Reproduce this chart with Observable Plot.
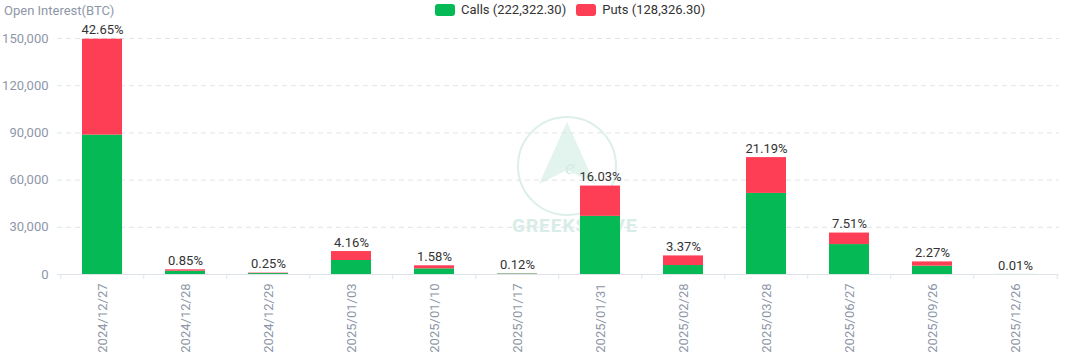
<!DOCTYPE html>
<html>
<head>
<meta charset="utf-8">
<script src="https://cdn.jsdelivr.net/npm/d3@7"></script>
<script src="https://cdn.jsdelivr.net/npm/@observablehq/plot@0.6"></script>
<style>
  html, body { margin: 0; padding: 0; background: #fff; }
  #wrap { position: relative; width: 1073px; height: 355px; font-family: Roboto, "Noto Sans", sans-serif; }
  #ytitle { position: absolute; left: 4px; top: 3px; font-size: 13px; color: #8e97a8; }
  #legend { position: absolute; top: 2px; left: 435px; display: flex; align-items: center; font-size: 13px; color: #333; }
  .sw { width: 20px; height: 12px; border-radius: 3px; display: inline-block; margin-right: 6px; }
  .item { display: flex; align-items: center; margin-right: 10px; }
  #wm { position: absolute; left: 512px; top: 214px; font-size: 19px; font-weight: bold; color: #cfe9e2; letter-spacing: 1px; opacity: 0.8; }
  #wmlogo { position: absolute; left: 515px; top: 114px; }
</style>
</head>
<body>
<div id="wrap">
  <svg id="wmlogo" width="104" height="104" viewBox="0 0 104 104">
    <circle cx="52" cy="52" r="49" fill="none" stroke="#dcefe9" stroke-width="2"/>
    <path d="M52 8 L80 70 L52 56 L24 70 Z" fill="#e3f3ee"/>
    <text x="50" y="60" font-size="22" font-style="italic" fill="#d3ebe4" font-family="serif">e</text>
  </svg>
  <div id="wm">GREEKS.LIVE</div>
  <div id="ytitle">Open Interest(BTC)</div>
  <div id="legend"></div>
</div>
<script>
const expiries = ["2024/12/27","2024/12/28","2024/12/29","2025/01/03","2025/01/10","2025/01/17","2025/01/31","2025/02/28","2025/03/28","2025/06/27","2025/09/26","2025/12/26"];
const calls = [88600, 2100, 600, 8900, 3600, 300, 36960, 5700, 51540, 19020, 5300, 25];
const puts  = [60950, 880, 277, 5690, 1940, 121, 19250, 6117, 22760, 7314, 2700, 10];
const shares = ["42.65%","0.85%","0.25%","4.16%","1.58%","0.12%","16.03%","3.37%","21.19%","7.51%","2.27%","0.01%"];
const yTicks = [0, 30000, 60000, 90000, 120000, 150000];
const seriesNames = ["Calls", "Puts"];
const seriesTotals = ["222,322.30", "128,326.30"];
const colors = ["#05b954", "#fe3e54"];

const rows = [];
expiries.forEach((d, i) => {
  rows.push({expiry: d, type: "Calls", value: calls[i]});
  rows.push({expiry: d, type: "Puts", value: puts[i]});
});
const totals = expiries.map((d, i) => ({expiry: d, total: calls[i] + puts[i], label: shares[i]}));

const W = 1073, H = 355, mL = 57, mR = 14, mT = 38, mB = 81;
const bw = (W - mL - mR) / expiries.length;

const chart = Plot.plot({
  width: W, height: H,
  marginLeft: mL, marginRight: mR, marginTop: mT, marginBottom: mB,
  style: {fontFamily: "Roboto, 'Noto Sans', sans-serif", fontSize: "13px", background: "transparent"},
  x: {domain: expiries, paddingInner: 0.52, paddingOuter: 0.26, align: 0.5, label: null, axis: null},
  y: {domain: [0, 150000], ticks: yTicks, label: null, axis: null},
  color: {domain: seriesNames, range: colors},
  marks: [
    Plot.gridY(yTicks.filter(t => t > 0), {stroke: "#dfe3ea", strokeOpacity: 1, strokeDasharray: "5,4"}),
    Plot.axisY({ticks: yTicks, tickSize: 0, tickPadding: 9, tickFormat: d3.format(","), fill: "#8e97a8", fontSize: 13}),
    Plot.barY(rows, {x: "expiry", y: "value", fill: "type", order: seriesNames}),
    Plot.ruleY([0], {stroke: "#dfe3ea"}),
    Plot.ruleX(expiries, {x: d => d, y1: 0, y2: 0, dx: -bw / 2, stroke: "#dfe3ea", insetBottom: -5}),
    Plot.ruleX([expiries[expiries.length - 1]], {x: d => d, y1: 0, y2: 0, dx: bw / 2, stroke: "#dfe3ea", insetBottom: -5}),
    Plot.text(totals, {x: "expiry", y: "total", text: "label", dy: -9, fill: "#333", fontSize: 13}),
    Plot.axisX({tickSize: 0, tickPadding: 9, tickRotate: -90, fill: "#8e97a8", fontSize: 13})
  ]
});
document.getElementById("wrap").appendChild(chart);
chart.style.position = "absolute";
chart.style.left = "0px";
chart.style.top = "0px";

const lg = document.getElementById("legend");
seriesNames.forEach((n, i) => {
  const it = document.createElement("div");
  it.className = "item";
  it.innerHTML = `<span class="sw" style="background:${colors[i]}"></span><span>${n} (${seriesTotals[i]})</span>`;
  lg.appendChild(it);
});
</script>
</body>
</html>
